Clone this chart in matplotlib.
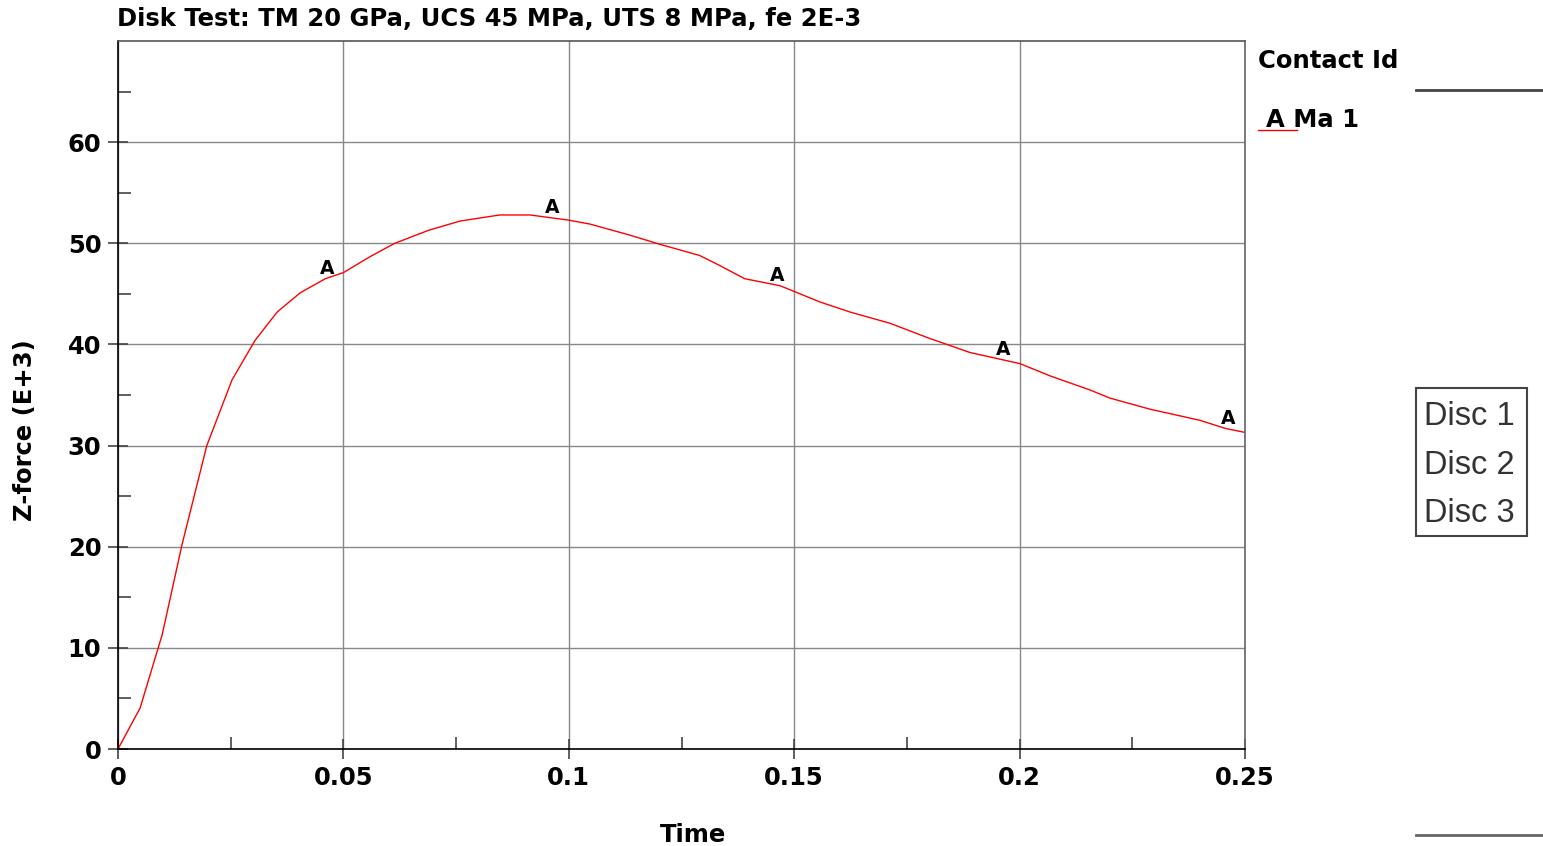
import numpy as np
import matplotlib
matplotlib.use("Agg")
import matplotlib.pyplot as plt
from matplotlib.patches import Rectangle
from matplotlib.lines import Line2D

# curve: time, z-force (E+3)
time = [0, 0.0049, 0.0098, 0.0142, 0.0197, 0.0253, 0.0304, 0.0353, 0.0404, 0.046,
        0.05, 0.056, 0.0614, 0.069, 0.0759, 0.0847, 0.0914, 0.0998, 0.1047, 0.1136,
        0.1202, 0.129, 0.1335, 0.139, 0.1469, 0.1557, 0.1624, 0.1712, 0.18, 0.189,
        0.2001, 0.2067, 0.2156, 0.22, 0.2289, 0.24, 0.2456, 0.25]
zforce = [0, 4.05, 11.3, 20.2, 30.0, 36.5, 40.4, 43.2, 45.1, 46.5,
          47.1, 48.7, 50.0, 51.3, 52.2, 52.8, 52.8, 52.3, 51.9, 50.8,
          49.9, 48.8, 47.8, 46.5, 45.8, 44.2, 43.2, 42.1, 40.6, 39.2,
          38.1, 36.9, 35.5, 34.7, 33.6, 32.5, 31.7, 31.3]
label_times = [0.0463, 0.0963, 0.1462, 0.1963, 0.2462]
xticks = [0, 0.05, 0.1, 0.15, 0.2, 0.25]
xticklabels = ["0", "0.05", "0.1", "0.15", "0.2", "0.25"]
yticks = [0, 10, 20, 30, 40, 50, 60]
disc_names = ["Disc 1", "Disc 2", "Disc 3"]

W, H = 1543, 846
FS = 17.5
fig = plt.figure(figsize=(W / 100, H / 100), dpi=100)
ax = fig.add_axes([118 / W, 1 - 749 / H, (1245 - 118) / W, (749 - 41) / H])

ax.plot(time, zforce, color="red", lw=1.0)
for t in label_times:
    ax.text(t, np.interp(t, time, zforce) + 0.05, "A", ha="center", va="bottom",
            fontsize=13.5, fontweight="bold")

ax.set_xlim(0, 0.25)
ax.set_ylim(0, 70)
ax.set_xticks(xticks)
ax.set_xticklabels(xticklabels)
ax.set_yticks(yticks)
ax.set_xticks(np.arange(0.025, 0.25, 0.05), minor=True)
ax.set_yticks(np.arange(5, 70, 10), minor=True)
ax.tick_params(which="major", direction="inout", length=14, width=1.2, color="#444444",
               labelsize=FS, pad=5)
ax.tick_params(which="minor", direction="in", length=9, width=1.2, color="#444444")
for lab in ax.get_xticklabels() + ax.get_yticklabels():
    lab.set_fontweight("bold")
ax.grid(which="major", color="#888888", lw=1.0)
ax.spines["left"].set_color("black")
ax.spines["bottom"].set_color("black")
ax.spines["top"].set_color("#555555")
ax.spines["right"].set_color("#666666")
for s in ax.spines.values():
    s.set_linewidth(1.2)

fig.text(117 / W, 1 - 19 / H, "Disk Test: TM 20 GPa, UCS 45 MPa, UTS 8 MPa, fe 2E-3",
         ha="left", va="center", fontsize=FS, fontweight="bold")
fig.text(693 / W, 1 - 835 / H, "Time", ha="center", va="center", fontsize=FS,
         fontweight="bold")
fig.text(25 / W, 1 - 430 / H, "Z-force (E+3)", ha="center", va="center", rotation=90,
         fontsize=FS, fontweight="bold")

# legend
fig.text(1258 / W, 1 - 61 / H, "Contact Id", ha="left", va="center", fontsize=FS,
         fontweight="bold")
fig.text(1266 / W, 1 - 120 / H, "A Ma 1", ha="left", va="center", fontsize=FS,
         fontweight="bold")
fig.add_artist(Line2D([1258 / W, 1297 / W], [1 - 130 / H, 1 - 130 / H], color="red", lw=1.0))

# pasted fragment on the right
fig.add_artist(Line2D([1416 / W, 1543 / W], [1 - 90 / H, 1 - 90 / H], color="#444444", lw=2))
fig.add_artist(Line2D([1416 / W, 1543 / W], [1 - 835 / H, 1 - 835 / H], color="#666666", lw=2))
fig.add_artist(Rectangle((1416 / W, 1 - 536 / H), (1527 - 1416) / W, (536 - 388) / H,
                         transform=fig.transFigure, fill=False, edgecolor="#444444", lw=1.5))
for i, name in enumerate(disc_names):
    fig.text(1424 / W, 1 - (416 + 49 * i) / H, name, ha="left", va="center",
             fontsize=23.5, family="Liberation Sans", color="#333333")

fig.savefig("out.png", dpi=100)
